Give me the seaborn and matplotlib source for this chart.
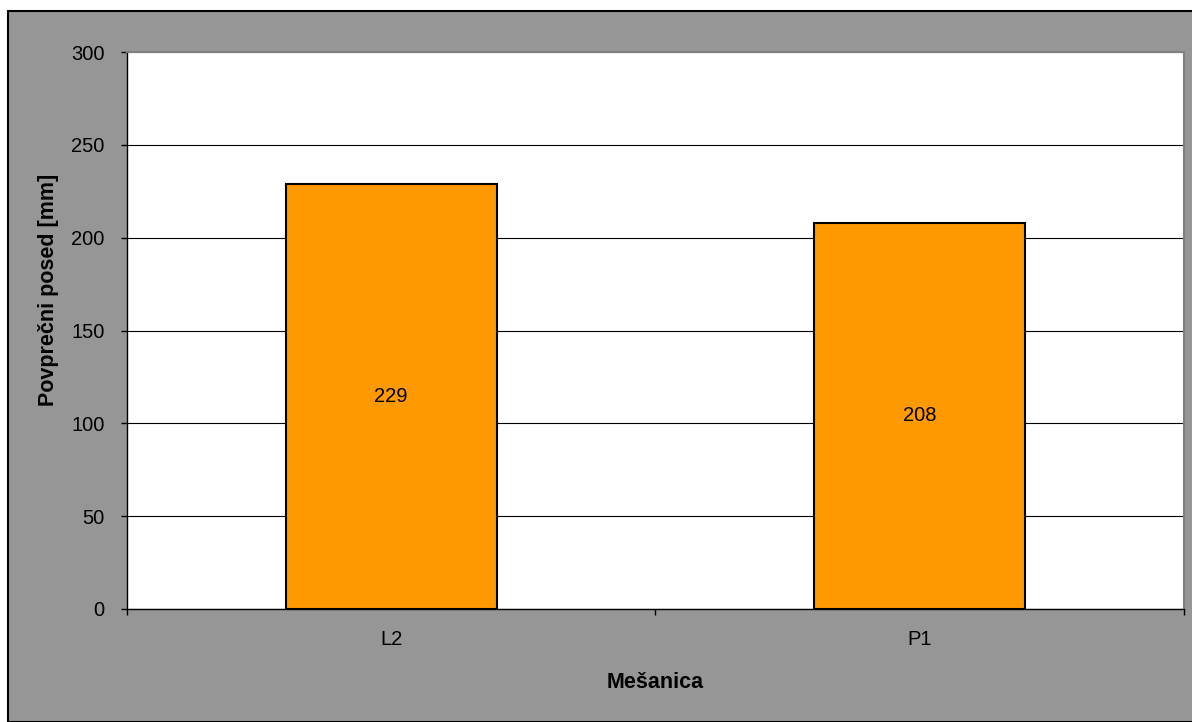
import matplotlib
matplotlib.use("Agg")
import matplotlib.pyplot as plt
import seaborn as sns
import pandas as pd
from matplotlib.patches import Rectangle

sns.set_style("white")
plt.rcParams["font.family"] = ["Liberation Sans", "DejaVu Sans"]
plt.rcParams["text.color"] = "black"
plt.rcParams["axes.labelcolor"] = "black"
plt.rcParams["xtick.color"] = "black"
plt.rcParams["ytick.color"] = "black"

mixtures = ["L2", "P1"]
avg_slump = [229, 208]
y_ticks = [0, 50, 100, 150, 200, 250, 300]

df = pd.DataFrame({"Mešanica": mixtures, "posed": avg_slump})

W, H = 1192, 722
fig = plt.figure(figsize=(W / 100, H / 100), dpi=100, facecolor="white")

# gray chart area with a black frame
fig.patches.append(Rectangle((8 / W, 0), 1.2, (H - 11) / H, transform=fig.transFigure,
                             facecolor="#969696", edgecolor="black", linewidth=1.5, zorder=-10))

ax = fig.add_axes([127 / W, (H - 609) / H, (1184 - 127) / W, (609 - 52) / H])
ax.set_facecolor("white")

sns.barplot(data=df, x="Mešanica", y="posed", ax=ax, color="#FF9900", width=0.4,
            edgecolor="black", linewidth=1.5, saturation=1, zorder=3)

ax.set_ylim(0, 300)
ax.set_xlim(-0.5, 1.5)
ax.set_yticks(y_ticks)
ax.yaxis.grid(True, color="black", linewidth=0.8, zorder=0)
ax.set_axisbelow(True)

for bar, v in zip(ax.patches, avg_slump):
    ax.text(bar.get_x() + bar.get_width() / 2, v / 2, f"{v}", ha="center", va="center",
            fontsize=14.5, color="black", zorder=5)

# category boundary ticks
ax.set_xticks([-0.5, 0.5, 1.5], minor=True)
ax.tick_params(axis="x", which="minor", length=4.5, width=1, color="black", direction="out", bottom=True)
ax.tick_params(axis="x", which="major", length=0, pad=15, labelsize=14.5, bottom=True)
ax.tick_params(axis="y", length=4.5, width=1, color="black", direction="out", left=True,
               labelsize=14.5, pad=11.5)

for side in ["top", "right"]:
    ax.spines[side].set_color("#808080")
    ax.spines[side].set_linewidth(1.5)
for side in ["left", "bottom"]:
    ax.spines[side].set_color("black")
    ax.spines[side].set_linewidth(1)

ax.set_xlabel("Mešanica", fontsize=15.5, fontweight="bold", labelpad=17)
ax.set_ylabel("Povprečni posed [mm]", fontsize=15.5, fontweight="bold", va="center")
ax.yaxis.set_label_coords(-0.0747, 0.573)

fig.savefig("out.png", dpi=100, facecolor=fig.get_facecolor())
